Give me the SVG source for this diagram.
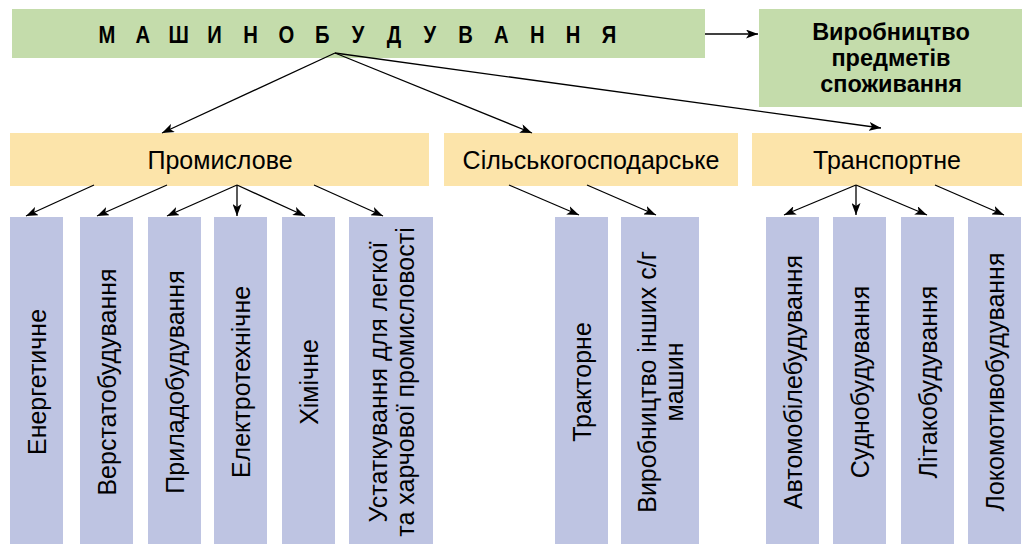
<svg xmlns="http://www.w3.org/2000/svg" width="1025" height="544" viewBox="0 0 1025 544">
<style>
.g{fill:#C4DCAB}
.y{fill:#FCE4AA}
.b{fill:#BEC4E2}
text{font-family:"Liberation Sans",Arial,sans-serif;fill:#000}
.t{font-size:25px;text-anchor:middle}
.h{font-size:23px;font-weight:bold;text-anchor:middle}
.r{font-size:23.5px;font-weight:bold;text-anchor:middle}
.c line{stroke:#000;stroke-width:1.3;marker-end:url(#a)}
</style>
<defs>
<marker id="a" markerUnits="userSpaceOnUse" viewBox="0 0 12 9" refX="12" refY="4.5" markerWidth="12" markerHeight="9" orient="auto">
<path d="M0,0 L12,4.5 L0,9 L3,4.5 Z" fill="#000"/>
</marker>
</defs>
<rect width="1025" height="544" fill="#fff"/>
<g id="main">
<rect class="g" x="12" y="9" width="693" height="49"/>
<g transform="translate(358.5,0) scale(0.88,1)">
<text class="h" y="43.3" x="-285.8 -245.1 -204.3 -163.6 -122.8 -82.1 -41.3 -0.6 40.2 80.9 121.7 162.4 203.2 243.9 284.7">МАШИНОБУДУВАННЯ</text>
</g>
</g>
<g id="consumer">
<rect class="g" x="759" y="9" width="263" height="98"/>
<text class="r" x="891" y="39.5">Виробництво</text>
<text class="r" x="891" y="65.5">предметів</text>
<text class="r" x="891" y="92">споживання</text>
</g>
<g id="industrial">
<rect class="y" x="10" y="133" width="419" height="53"/>
<text class="t" x="220" y="168.5">Промислове</text>
</g>
<g id="agri">
<rect class="y" x="444" y="133" width="294" height="53"/>
<text class="t" x="591" y="168.5">Сільськогосподарське</text>
</g>
<g id="transport">
<rect class="y" x="752" y="133" width="270" height="53"/>
<text class="t" x="887" y="168.5">Транспортне</text>
</g>
<g id="energy"><rect class="b" x="10" y="217" width="53" height="327"/><text class="t" x="45.5" y="382" transform="rotate(-90 45.5 382)">Енергетичне</text></g>
<g id="machinetool"><rect class="b" x="80" y="217" width="53" height="327"/><text class="t" x="115.5" y="382" transform="rotate(-90 115.5 382)">Верстатобудування</text></g>
<g id="instrument"><rect class="b" x="148" y="217" width="53" height="327"/><text class="t" x="183.5" y="382" transform="rotate(-90 183.5 382)">Приладобудування</text></g>
<g id="electro"><rect class="b" x="214" y="217" width="53" height="327"/><text class="t" x="249.5" y="382" transform="rotate(-90 249.5 382)">Електротехнічне</text></g>
<g id="chemical"><rect class="b" x="282" y="217" width="53" height="327"/><text class="t" x="317.5" y="382" transform="rotate(-90 317.5 382)">Хімічне</text></g>
<g id="equipment"><rect class="b" x="349" y="217" width="84" height="327"/>
<text class="t" x="386.5" y="382" transform="rotate(-90 386.5 382)">Устаткування для легкої</text>
<text class="t" x="413.5" y="382" transform="rotate(-90 413.5 382)">та харчової промисловості</text></g>
<g id="tractor"><rect class="b" x="555" y="217" width="53" height="327"/><text class="t" x="590.5" y="382" transform="rotate(-90 590.5 382)">Тракторне</text></g>
<g id="othermach"><rect class="b" x="621" y="217" width="78" height="327"/>
<text class="t" x="655.5" y="382" transform="rotate(-90 655.5 382)">Виробництво інших с/г</text>
<text class="t" x="682.5" y="382" transform="rotate(-90 682.5 382)">машин</text></g>
<g id="auto"><rect class="b" x="766" y="217" width="53" height="327"/><text class="t" x="801.5" y="382" transform="rotate(-90 801.5 382)">Автомобілебудування</text></g>
<g id="ship"><rect class="b" x="833" y="217" width="53" height="327"/><text class="t" x="868.5" y="382" transform="rotate(-90 868.5 382)">Суднобудування</text></g>
<g id="aircraft"><rect class="b" x="901" y="217" width="53" height="327"/><text class="t" x="936.5" y="382" transform="rotate(-90 936.5 382)">Літакобудування</text></g>
<g id="loco"><rect class="b" x="968" y="217" width="53" height="327"/><text class="t" x="1003.5" y="382" transform="rotate(-90 1003.5 382)">Локомотивобудування</text></g>
<g id="connectors" class="c">
<line x1="705" y1="34" x2="758" y2="34"/>
<line x1="335" y1="53" x2="162" y2="133"/>
<line x1="335" y1="53" x2="532" y2="133"/>
<line x1="335" y1="53" x2="881" y2="128"/>
<line x1="94" y1="185" x2="26" y2="216"/>
<line x1="167" y1="185" x2="97" y2="216"/>
<line x1="237" y1="185" x2="167" y2="216"/>
<line x1="237" y1="185" x2="237" y2="216"/>
<line x1="237" y1="185" x2="305" y2="216"/>
<line x1="314" y1="185" x2="383" y2="216"/>
<line x1="509" y1="185" x2="579" y2="215"/>
<line x1="587" y1="185" x2="656" y2="215"/>
<line x1="856" y1="185" x2="784" y2="215"/>
<line x1="856" y1="185" x2="856" y2="215"/>
<line x1="856" y1="185" x2="927" y2="215"/>
<line x1="935" y1="185" x2="1004" y2="215"/>
</g>
</svg>
